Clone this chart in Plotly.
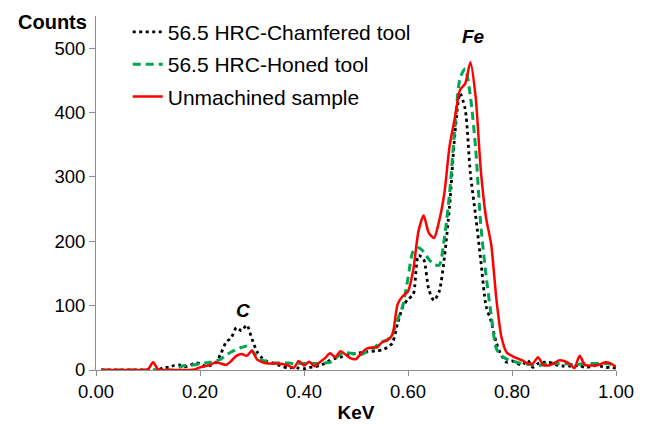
import plotly.graph_objects as go

# Energy channels (keV)
kev = [round(0.01 * i, 2) for i in range(1, 101)]

# 56.5 HRC - chamfered tool
chamfered = [
    0, 0, 0, 0, 0, 0, 0, 0, 0, 0,
    0, 0, 4, 4, 7, 8, 5, 7, 11, 10,
    6, 7, 11, 25, 43, 50, 66, 61, 70, 48,
    28, 18, 13, 11, 8, 5, 3, 4, 3, 2,
    4, 5, 7, 10, 15, 18, 20, 22, 24, 26,
    27, 28, 29, 30, 31, 35, 42, 72, 98, 110,
    117, 178, 172, 125, 108, 122, 175, 255, 365, 430,
    405, 305, 240, 170, 100, 75, 42, 22, 12, 14,
    10, 8, 15, 4, 10, 12, 12, 10, 7, 6,
    6, 6, 7, 4, 5, 7, 6, 4, 4, 3,
]

# 56.5 HRC - honed tool
honed = [
    0, 0, 0, 0, 0, 0, 0, 0, 0, 0,
    0, 0, 0, 0, 0, 4, 7, 7, 8, 10,
    11, 12, 14, 17, 23, 28, 32, 35, 37, 30,
    20, 15, 13, 11, 11, 11, 11, 10, 10, 10,
    10, 10, 10, 11, 12, 18, 24, 27, 26, 25,
    24, 28, 32, 38, 44, 47, 56, 78, 100, 143,
    185, 190, 184, 172, 164, 163, 205, 275, 375, 453,
    468, 425, 345, 225, 148, 85, 33, 22, 17, 14,
    12, 10, 9, 8, 7, 8, 10, 10, 10, 10,
    9, 8, 9, 10, 10, 10, 10, 10, 9, 7,
]

# Unmachined sample
unmachined = [
    0, 0, 0, 0, 0, 0, 0, 0, 0, 1,
    12, 0, 0, 0, 0, 0, 0, 0, 1, 4,
    6, 8, 12, 10, 8, 14, 22, 25, 22, 30,
    16, 12, 10, 10, 10, 9, 7, 3, 14, 7,
    13, 6, 12, 18, 26, 20, 29, 24, 18, 17,
    26, 33, 35, 35, 43, 46, 55, 102, 115, 122,
    155, 215, 240, 213, 205, 232, 275, 348, 391, 435,
    445, 478, 425, 310, 237, 195, 110, 50, 27, 22,
    18, 15, 10, 10, 20, 8, 7, 10, 15, 14,
    10, 3, 22, 8, 7, 7, 9, 12, 10, 5,
]

series = [
    ("56.5 HRC-Chamfered tool", chamfered, "#000000", "3px,3.5px", 2.8),
    ("56.5 HRC-Honed tool", honed, "#00a651", "8px,5px", 3),
    ("Unmachined sample", unmachined, "#ff0000", "solid", 2.5),
]

FONT = "Liberation Sans, Arial, Helvetica, sans-serif"

fig = go.Figure()
for name, values, color, dash, width in series:
    fig.add_trace(go.Scatter(
        x=kev, y=values, name=name, mode="lines",
        line=dict(color=color, dash=dash, width=width, shape="spline", smoothing=0.7),
        legendgroup=name,
    ))

fig.update_layout(
    width=664, height=425,
    margin=dict(l=96, r=48, t=14, b=55),
    paper_bgcolor="white", plot_bgcolor="white",
    font=dict(family=FONT, color="black", size=18),
    showlegend=True,
    legend=dict(
        x=0.061, y=1.012, xanchor="left", yanchor="top",
        font=dict(size=21, family=FONT),
        bgcolor="rgba(0,0,0,0)", tracegroupgap=2,
    ),
    xaxis=dict(
        range=[0, 1.0], tick0=0, dtick=0.2, tickformat=".2f",
        showline=True, linecolor="#8c8c8c", linewidth=1,
        ticks="outside", ticklen=5, tickcolor="#8c8c8c",
        showgrid=False, zeroline=False, automargin=False,
        tickfont=dict(size=18.5),
        title=dict(text="<b>KeV</b>", font=dict(size=19), standoff=4),
    ),
    yaxis=dict(
        range=[0, 550], tick0=0, dtick=100,
        showline=True, linecolor="#8c8c8c", linewidth=1,
        ticks="outside", ticklen=6, tickcolor="#8c8c8c",
        showgrid=False, zeroline=False, automargin=False,
        tickfont=dict(size=18.5),
    ),
)

fig.add_annotation(text="<b>Counts</b>", xref="paper", yref="paper",
                   x=-0.083, y=0.983, showarrow=False,
                   font=dict(size=20, family=FONT), xanchor="center", yanchor="middle")
fig.add_annotation(text="<b><i>C</i></b>", x=0.283, y=92, showarrow=False,
                   font=dict(size=19, family=FONT))
fig.add_annotation(text="<b><i>Fe</i></b>", x=0.726, y=518, showarrow=False,
                   font=dict(size=19, family=FONT))

fig.write_html("out.html")
